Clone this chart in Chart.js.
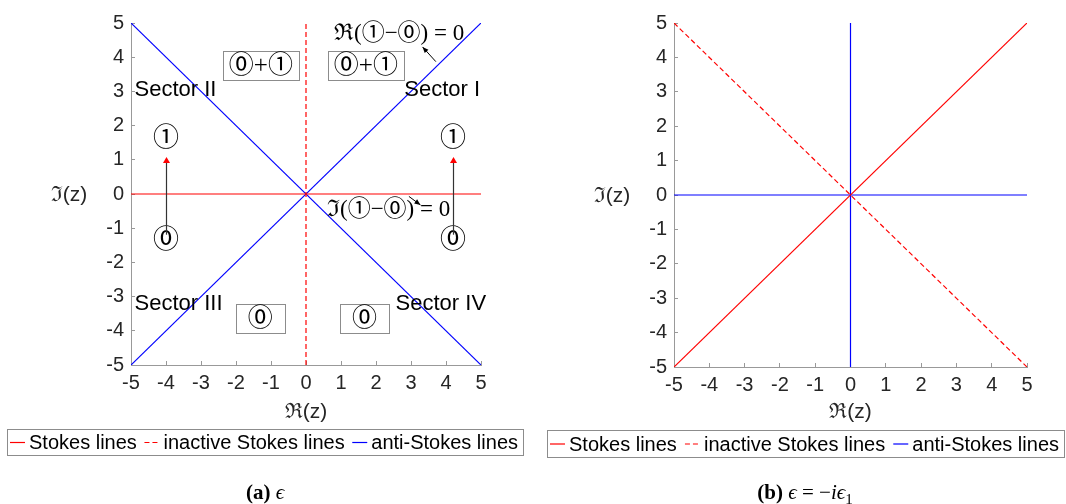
<!DOCTYPE html>
<html>
<head>
<meta charset="utf-8">
<script src="https://cdn.jsdelivr.net/npm/chart.js@4.4.0/dist/chart.umd.min.js"></script>
<style>
  body { margin: 0; background: #fff; }
  #wrap { position: relative; width: 1066px; height: 504px; overflow: hidden; }
  .panel { position: absolute; top: 0; width: 533px; height: 504px; }
  .cap { position: absolute; top: 479px; font-family: "Liberation Serif", "DejaVu Serif", serif; font-size: 21px; line-height: 26px; color: #000; white-space: nowrap; transform: translateX(-50%); }
  .cap sub { font-size: 15px; line-height: 0; }
</style>
</head>
<body>
<div id="wrap">
  <div class="panel" style="left:0"><canvas id="chartA" width="533" height="504"></canvas></div>
  <div class="panel" style="left:533px"><canvas id="chartB" width="533" height="504"></canvas></div>
  <div class="cap" style="left:265px"><b>(a)</b> <i>ϵ</i></div>
  <div class="cap" style="left:805px"><b>(b)</b> <i>ϵ</i> = −<i>iϵ</i><sub>1</sub></div>
</div>
<script>
//axes
const tickValues = [-5, -4, -3, -2, -1, 0, 1, 2, 3, 4, 5];
const legendLabels = ['Stokes lines', 'inactive Stokes lines', 'anti-Stokes lines'];

//panel (a): epsilon
const aStokesX = [-5, 5];
const aStokesY = [0, 0];
const aInactiveX = [0, 0];
const aInactiveY = [-5, 5];
const aAntiFallX = [-5, 5];
const aAntiFallY = [5, -5];
const aAntiRiseX = [-5, 5];
const aAntiRiseY = [-5, 5];

//panel (b): epsilon = -i epsilon_1
const bStokesX = [-5, 5];
const bStokesY = [-5, 5];
const bInactiveX = [-5, 5];
const bInactiveY = [5, -5];
const bAntiFlatX = [-5, 5];
const bAntiFlatY = [0, 0];
const bAntiUpX = [0, 0];
const bAntiUpY = [-5, 5];

//annotations of panel (a), in data units
const sectorText = ['Sector I', 'Sector II', 'Sector III', 'Sector IV'];
const sectorX = [2.81, -4.9, -4.9, 2.56];
const sectorY = [3.07, 3.07, -3.18, -3.18];

const boxText = ['⓪+①', '⓪+①', '⓪', '⓪'];
const boxX = [-1.29, 1.71, -1.31, 1.67];
const boxY = [3.77, 3.77, -3.64, -3.64];

const circText = ['①', '⓪', '①', '⓪'];
const circX = [-4, -4, 4.2, 4.2];
const circY = [1.59, -1.39, 1.59, -1.39];

const jumpX = [-4, 4.2];
const jumpFrom = -1.19;
const jumpTo = 1.08;

const mathText = ['ℜ(①−⓪) = 0', 'ℑ(①−⓪) = 0'];
const mathX = [2.66, 2.36];
const mathY = [4.67, -0.47];

const pointerFromX = [3.71, 2.94];
const pointerFromY = [3.87, -0.07];
const pointerToX = [3.33, 3.27];
const pointerToY = [4.30, -0.32];

const RED = '#ff0000';
const BLUE = '#0000ff';
const AXIS = '#999999';
const INK = '#262626';
const SANS = '"Liberation Sans", Arial, sans-serif';
const CIRC = '"Liberation Serif", "Noto Sans CJK JP", "DejaVu Serif", serif';

function line(xs, ys, label, color, dash) {
  return {
    label: label,
    data: xs.map((v, i) => ({ x: v, y: ys[i] })),
    showLine: true,
    borderColor: color,
    backgroundColor: color,
    borderWidth: 1.2,
    borderDash: dash || [],
    pointRadius: 0,
    pointHoverRadius: 0,
    tension: 0
  };
}

function arrowHead(ctx, x0, y0, x1, y1, len, half) {
  const a = Math.atan2(y1 - y0, x1 - x0);
  ctx.beginPath();
  ctx.moveTo(x1, y1);
  ctx.lineTo(x1 - len * Math.cos(a) + half * Math.sin(a), y1 - len * Math.sin(a) - half * Math.cos(a));
  ctx.lineTo(x1 - len * Math.cos(a) - half * Math.sin(a), y1 - len * Math.sin(a) + half * Math.cos(a));
  ctx.closePath();
  ctx.fill();
}

//horizontal y label, matlab style
const yLabel = {
  id: 'yLabel',
  afterDraw(chart) {
    const { ctx, chartArea } = chart;
    ctx.save();
    ctx.font = '21px ' + SANS;
    ctx.fillStyle = INK;
    ctx.textAlign = 'center';
    ctx.textBaseline = 'middle';
    ctx.fillText('ℑ(z)', chartArea.left - 62, (chartArea.top + chartArea.bottom) / 2 + 1);
    ctx.restore();
  }
};

//boxed legend under the axes
const frameLegend = {
  id: 'frameLegend',
  afterDraw(chart, args, opts) {
    const { ctx } = chart;
    const items = [];
    legendLabels.forEach(lbl => {
      const ds = chart.data.datasets.find(d => d.label === lbl);
      if (ds) items.push({ text: lbl, color: ds.borderColor, dash: ds.borderDash });
    });
    ctx.save();
    ctx.font = '20px ' + SANS;
    const sample = 15, gap = 4, left = 3, right = 5;
    const widths = items.map(it => ctx.measureText(it.text).width);
    const used = widths.reduce((a, b) => a + b, 0) + items.length * (sample + gap);
    const between = (opts.width - left - right - used) / (items.length - 1);
    ctx.strokeStyle = '#8c8c8c';
    ctx.lineWidth = 1;
    ctx.strokeRect(opts.left + 0.5, opts.top + 0.5, opts.width, opts.height);
    const cy = opts.top + opts.height / 2 + 0.5;
    let cx = opts.left + left;
    items.forEach((it, i) => {
      ctx.strokeStyle = it.color;
      ctx.lineWidth = 1.2;
      ctx.setLineDash(it.dash);
      ctx.beginPath();
      ctx.moveTo(cx, cy);
      ctx.lineTo(cx + sample, cy);
      ctx.stroke();
      ctx.setLineDash([]);
      ctx.fillStyle = '#000';
      ctx.textAlign = 'left';
      ctx.textBaseline = 'middle';
      ctx.fillText(it.text, cx + sample + gap, cy + 1);
      cx += sample + gap + widths[i] + between;
    });
    ctx.restore();
  }
};

//sector names, boxed labels and arrows of panel (a)
const panelNotes = {
  id: 'panelNotes',
  afterDatasetsDraw(chart) {
    const { ctx, scales: { x, y } } = chart;
    const px = v => x.getPixelForValue(v);
    const py = v => y.getPixelForValue(v);
    ctx.save();
    ctx.fillStyle = '#000';
    ctx.textBaseline = 'middle';

    ctx.font = '22px ' + SANS;
    ctx.textAlign = 'left';
    sectorText.forEach((t, i) => ctx.fillText(t, px(sectorX[i]), py(sectorY[i]) + 1));

    ctx.font = '25px ' + CIRC;
    ctx.textAlign = 'center';
    boxText.forEach((t, i) => {
      const cx = px(boxX[i]), cy = py(boxY[i]);
      const w = Math.max(Math.round(ctx.measureText(t).width) + 12, 49), h = 29;
      ctx.strokeStyle = '#8c8c8c';
      ctx.lineWidth = 1;
      ctx.strokeRect(Math.round(cx - w / 2) + 0.5, Math.round(cy - h / 2) + 0.5, w, h);
      ctx.fillText(t, cx, cy + 1);
    });

    ctx.font = '26px ' + CIRC;
    circText.forEach((t, i) => ctx.fillText(t, px(circX[i]), py(circY[i])));

    //transition arrows: black shaft, red head
    jumpX.forEach(v => {
      const xx = Math.round(px(v)) + 0.5, y0 = py(jumpFrom), y1 = py(jumpTo);
      ctx.strokeStyle = '#333';
      ctx.lineWidth = 1.2;
      ctx.beginPath();
      ctx.moveTo(xx, y0);
      ctx.lineTo(xx, y1 + 4);
      ctx.stroke();
      ctx.fillStyle = RED;
      arrowHead(ctx, xx, y0, xx, y1, 6, 3.5);
    });

    ctx.fillStyle = '#000';
    ctx.font = '23px ' + CIRC;
    mathText.forEach((t, i) => ctx.fillText(t, px(mathX[i]), py(mathY[i])));

    pointerFromX.forEach((v, i) => {
      const x0 = px(v), y0 = py(pointerFromY[i]);
      const x1 = px(pointerToX[i]), y1 = py(pointerToY[i]);
      ctx.strokeStyle = '#000';
      ctx.lineWidth = 1;
      ctx.beginPath();
      ctx.moveTo(x0, y0);
      ctx.lineTo(x1, y1);
      ctx.stroke();
      ctx.fillStyle = '#000';
      arrowHead(ctx, x0, y0, x1, y1, 6, 2.5);
    });
    ctx.restore();
  }
};

function axis(fitSize, isX) {
  const s = {
    type: 'linear',
    min: -5,
    max: 5,
    afterBuildTicks: sc => { sc.ticks = tickValues.map(v => ({ value: v })); },
    grid: { display: true, drawOnChartArea: false, drawTicks: true, tickLength: -4, color: AXIS, lineWidth: 1 },
    border: { display: true, color: AXIS, width: 1 },
    ticks: { color: INK, autoSkip: false, maxRotation: 0, font: { family: SANS, size: 20 }, padding: isX ? 10 : 11 }
  };
  if (isX) {
    s.afterFit = sc => { sc.height = fitSize; };
    s.title = { display: true, text: 'ℜ(z)', color: INK, font: { family: SANS, size: 21 }, padding: { top: 0, bottom: 0 } };
  } else {
    s.afterFit = sc => { sc.width = fitSize; };
  }
  return s;
}

function makeChart(id, datasets, layout, extra) {
  return new Chart(document.getElementById(id), {
    type: 'scatter',
    data: { datasets: datasets },
    options: {
      responsive: false,
      animation: false,
      events: [],
      layout: { padding: { top: 15, right: layout.padRight, bottom: 79, left: 0 } },
      plugins: {
        legend: { display: false },
        tooltip: { enabled: false },
        frameLegend: layout.legend
      },
      scales: {
        x: axis(layout.xHeight, true),
        y: axis(layout.yWidth, false)
      }
    },
    plugins: [frameLegend, yLabel].concat(extra)
  });
}

const chartA = makeChart('chartA', [
  line(aStokesX, aStokesY, 'Stokes lines', RED),
  line(aInactiveX, aInactiveY, 'inactive Stokes lines', RED, [5, 3]),
  line(aAntiFallX, aAntiFallY, 'anti-Stokes lines', BLUE),
  line(aAntiRiseX, aAntiRiseY, 'anti-Stokes lines', BLUE)
], { padRight: 52, xHeight: 60, yWidth: 131, legend: { left: 7, top: 429, width: 516, height: 26 } }, [panelNotes]);

const chartB = makeChart('chartB', [
  line(bStokesX, bStokesY, 'Stokes lines', RED),
  line(bInactiveX, bInactiveY, 'inactive Stokes lines', RED, [5, 3]),
  line(bAntiFlatX, bAntiFlatY, 'anti-Stokes lines', BLUE),
  line(bAntiUpX, bAntiUpY, 'anti-Stokes lines', BLUE)
], { padRight: 39, xHeight: 58, yWidth: 141, legend: { left: 14, top: 430, width: 517, height: 27 } }, []);
</script>
</body>
</html>
